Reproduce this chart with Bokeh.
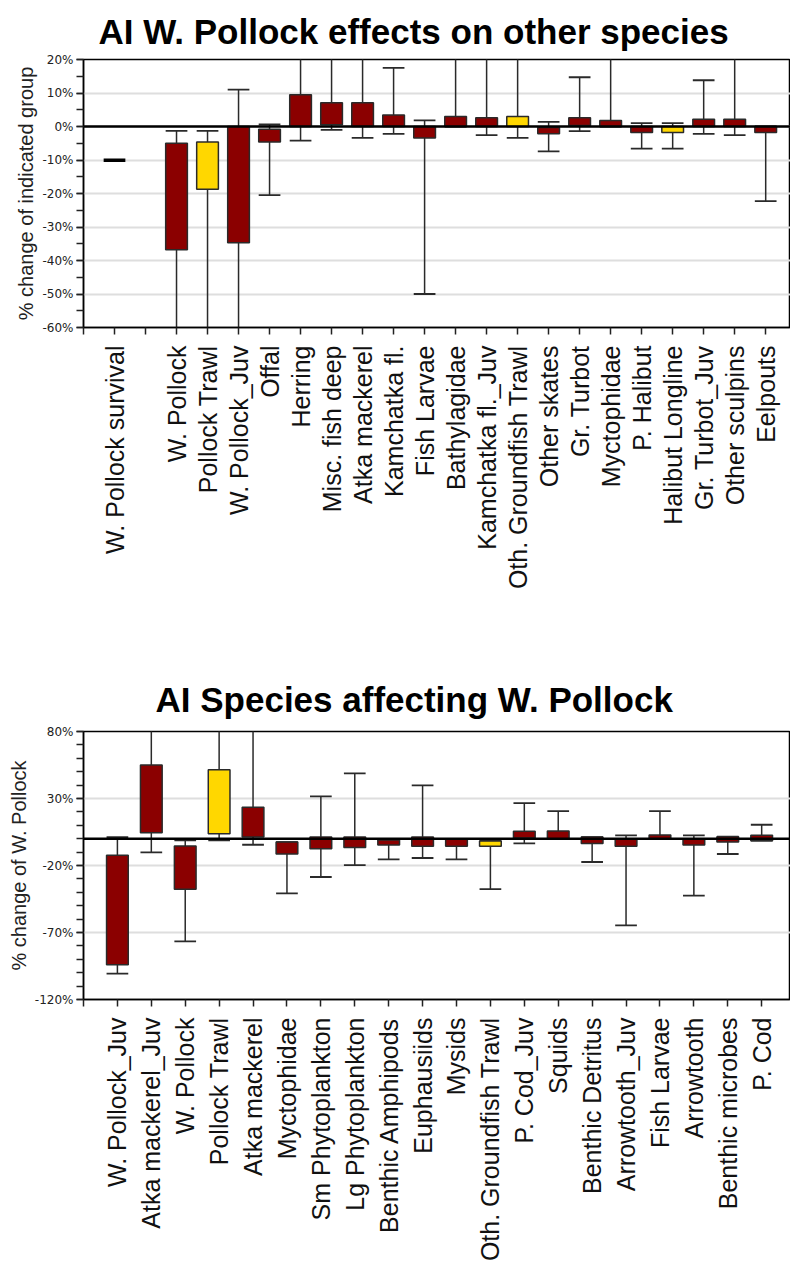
import math
from bokeh.plotting import figure
from bokeh.models import Range1d, FixedTicker, PrintfTickFormatter, Span
from bokeh.layouts import column
from bokeh.embed import file_html
from bokeh.resources import INLINE

# ---------------- data: top chart ----------------
survival_label = "W. Pollock survival"
survival_value = -10.1

top_groups = ["W. Pollock", "Pollock Trawl", "W. Pollock_Juv", "Offal", "Herring",
              "Misc. fish deep", "Atka mackerel", "Kamchatka fl.", "Fish Larvae",
              "Bathylagidae", "Kamchatka fl._Juv", "Oth. Groundfish Trawl",
              "Other skates", "Gr. Turbot", "Myctophidae", "P. Halibut",
              "Halibut Longline", "Gr. Turbot_Juv", "Other sculpins", "Eelpouts"]
top_box_low = [-36.8, -18.7, -34.7, -4.6, 0.0, 0.5, 0.0, 0.0, -3.4, 0.0, 0.0, 0.0,
               -2.2, 0.3, 0.0, -1.8, -1.8, 0.0, 0.0, -1.8]
top_box_high = [-5.0, -4.6, 0.0, -0.8, 9.5, 7.1, 7.1, 3.4, 0.0, 3.0, 2.6, 3.0,
                -0.3, 2.6, 1.8, 0.0, 0.0, 2.2, 2.2, 0.0]
top_err_low = [-80, -80, -80, -20.5, -4.2, -1.0, -3.4, -2.2, -50.0, 0.0, -2.6, -3.4,
               -7.4, -1.4, 0.0, -6.6, -6.6, -2.2, -2.6, -22.3]
top_err_high = [-1.3, -1.3, 11.0, 0.6, 25, 25, 25, 17.5, 1.8, 25, 25, 25,
                1.4, 14.7, 25, 1.0, 1.0, 13.8, 25, 0.0]
top_fishery = ["Pollock Trawl", "Oth. Groundfish Trawl", "Halibut Longline"]

# ---------------- data: bottom chart ----------------
bot_groups = ["W. Pollock_Juv", "Atka mackerel_Juv", "W. Pollock", "Pollock Trawl",
              "Atka mackerel", "Myctophidae", "Sm Phytoplankton", "Lg Phytoplankton",
              "Benthic Amphipods", "Euphausiids", "Mysids", "Oth. Groundfish Trawl",
              "P. Cod_Juv", "Squids", "Benthic Detritus", "Arrowtooth_Juv",
              "Fish Larvae", "Arrowtooth", "Benthic microbes", "P. Cod"]
bot_box_low = [-94.0, 4.5, -37.8, 3.7, 1.2, -11.4, -7.5, -6.5, -4.7, -5.7, -5.7, -5.7,
               0.5, 0.0, -3.5, -5.7, 0.0, -4.7, -2.5, -1.5]
bot_box_high = [-12.4, 55.0, -5.5, 51.5, 23.4, -2.5, 1.2, 1.2, -1.0, 1.2, -0.5, -1.7,
                5.5, 5.7, 1.2, 0.0, 2.7, 0.0, 1.5, 2.5]
bot_err_low = [-100.7, -10.2, -76.6, -1.2, -4.5, -40.8, -28.6, -19.7, -15.4, -14.4,
               -15.4, -37.6, -3.5, 0.0, -17.4, -64.7, 0.0, -42.5, -11.4, -1.5]
bot_err_high = [1.2, 100, -1.2, 100, 100, -2.5, 31.6, 48.8, -1.0, 39.8, -0.5, -1.7,
                26.6, 20.6, 1.2, 2.5, 20.6, 2.5, 1.5, 10.4]
bot_fishery = ["Pollock Trawl", "Oth. Groundfish Trawl"]

RED = "#8B0000"
GOLD = "#FFD700"
EDGE = "#2a2a2a"
FONT = "Liberation Sans"


def style(p, yticks, yminor, ylabel):
    p.outline_line_color = "black"
    p.outline_line_width = 1.5
    p.xgrid.visible = False
    p.ygrid.grid_line_color = "#dedede"
    p.ygrid.grid_line_width = 2
    p.yaxis.ticker = FixedTicker(ticks=yticks, minor_ticks=yminor)
    p.yaxis.formatter = PrintfTickFormatter(format="%d%%")
    p.yaxis.axis_label = ylabel
    p.yaxis.axis_label_text_font = FONT
    p.yaxis.axis_label_text_font_style = "normal"
    p.yaxis.axis_label_text_font_size = "20px"
    p.yaxis.axis_label_text_color = "#222222"
    p.yaxis.axis_label_standoff = 2
    p.yaxis.major_label_text_font = "DejaVu Sans"
    p.yaxis.major_label_text_font_size = "12px"
    p.yaxis.major_label_text_color = "#222222"
    p.yaxis.major_label_standoff = 3
    for ax in (p.xaxis[0], p.yaxis[0]):
        ax.axis_line_color = "black"
        ax.axis_line_width = 1.5
        ax.major_tick_line_color = "#222222"
        ax.major_tick_line_width = 1.5
        ax.major_tick_out = 7
        ax.major_tick_in = 0
    p.yaxis.minor_tick_line_color = "#222222"
    p.yaxis.minor_tick_line_width = 1.5
    p.yaxis.minor_tick_out = 7
    p.yaxis.minor_tick_in = 0
    p.xaxis.minor_tick_line_color = None
    p.xaxis.major_label_orientation = math.pi / 2
    p.xaxis.major_label_text_font = FONT
    p.xaxis.major_label_text_font_size = "25px"
    p.xaxis.major_label_text_color = "#111111"
    p.xaxis.major_label_standoff = 11
    p.title.text_font = FONT
    p.title.text_font_size = "35px"
    p.title.text_font_style = "bold"
    p.title.text_color = "black"
    p.title.align = "left"


def draw(p, xs, lo, hi, elo, ehi, colors, w):
    # whisker stems
    p.segment(x0=xs, y0=elo, x1=xs, y1=ehi, line_color=EDGE, line_width=1.5)
    # caps
    p.segment(x0=[x - w / 2 for x in xs], y0=elo, x1=[x + w / 2 for x in xs], y1=elo,
              line_color=EDGE, line_width=1.8)
    p.segment(x0=[x - w / 2 for x in xs], y0=ehi, x1=[x + w / 2 for x in xs], y1=ehi,
              line_color=EDGE, line_width=1.8)
    # boxes
    p.vbar(x=xs, width=w, bottom=lo, top=hi, fill_color=colors,
           line_color=EDGE, line_width=1.5)
    p.add_layout(Span(location=0, dimension="width", line_color="black", line_width=2.5))


# ---------------- top figure ----------------
p1 = figure(width=790, height=655, x_range=Range1d(0, 22.8), y_range=Range1d(-60, 20),
            output_backend="svg", toolbar_location=None,
            title="AI W. Pollock effects on other species",
            min_border_left=83, min_border_right=0, min_border_top=58, min_border_bottom=328)
style(p1, list(range(-60, 21, 10)), list(range(-60, 21, 5)), "% change of indicated group")
p1.title.offset = 15
p1.title.standoff = 18

top_x = list(range(3, 3 + len(top_groups)))
top_colors = [GOLD if g in top_fishery else RED for g in top_groups]
draw(p1, top_x, top_box_low, top_box_high, top_err_low, top_err_high, top_colors, 0.7)
p1.segment(x0=[1 - 0.35], y0=[survival_value], x1=[1 + 0.35], y1=[survival_value],
           line_color="black", line_width=3.5)

top_ticks = list(range(0, 3 + len(top_groups)))
p1.xaxis.ticker = FixedTicker(ticks=top_ticks)
overrides = {0: "", 1: survival_label, 2: ""}
for x, g in zip(top_x, top_groups):
    overrides[x] = g
p1.xaxis.major_label_overrides = overrides

# ---------------- bottom figure ----------------
p2 = figure(width=790, height=613, x_range=Range1d(0, 20.85), y_range=Range1d(-120, 80),
            output_backend="svg", toolbar_location=None,
            title="AI Species affecting W. Pollock",
            min_border_left=83, min_border_right=0, min_border_top=76, min_border_bottom=269)
style(p2, [-120, -70, -20, 30, 80], list(range(-120, 81, 10)), "% change of W. Pollock")
p2.title.offset = 72
p2.title.standoff = 26

bot_x = list(range(1, 1 + len(bot_groups)))
bot_colors = [GOLD if g in bot_fishery else RED for g in bot_groups]
draw(p2, bot_x, bot_box_low, bot_box_high, bot_err_low, bot_err_high, bot_colors, 0.64)
p2.xaxis.ticker = FixedTicker(ticks=list(range(0, 1 + len(bot_groups))))
ov2 = {0: ""}
for x, g in zip(bot_x, bot_groups):
    ov2[x] = g
p2.xaxis.major_label_overrides = ov2

layout = column(p1, p2, spacing=0)
open("out.html", "w").write(file_html(layout, INLINE))
